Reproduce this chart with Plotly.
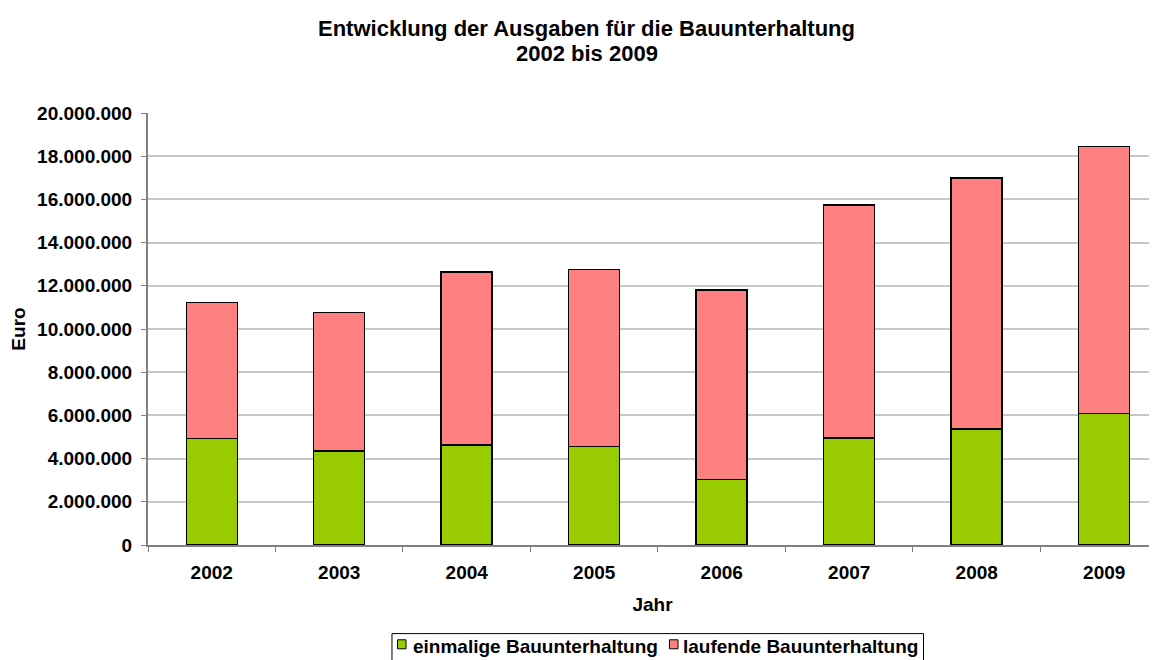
import plotly.graph_objects as go

jahre = ["2002", "2003", "2004", "2005", "2006", "2007", "2008", "2009"]
einmalig = [4930000, 4350000, 4620000, 4550000, 3030000, 4950000, 5360000, 6080000]
laufend = [6290000, 6410000, 8020000, 8210000, 8780000, 10790000, 11620000, 12380000]

titel_1 = "Entwicklung der Ausgaben für die Bauunterhaltung"
titel_2 = "2002 bis 2009"
name_1 = "einmalige Bauunterhaltung"
name_2 = "laufende Bauunterhaltung"
farbe_1 = "#99CC00"
farbe_2 = "#FF8080"

font_fam = "Arial, Liberation Sans, sans-serif"
bold19 = dict(family=font_fam, size=19, color="black", weight="bold")
bold22 = dict(family=font_fam, size=22, color="black", weight="bold")

fig = go.Figure()
fig.add_trace(go.Bar(
    x=jahre, y=einmalig, name=name_1,
    marker=dict(color=farbe_1, line=dict(color="black", width=1.5)),
    width=0.4,
))
fig.add_trace(go.Bar(
    x=jahre, y=laufend, name=name_2,
    marker=dict(color=farbe_2, line=dict(color="black", width=1.5)),
    width=0.4,
))

# legend drawn by hand (Excel style: small square right next to the text, box cut at the bottom)
legend_shapes = [
    dict(type="rect", xref="paper", yref="paper", x0=0.2418, x1=0.7686, y0=-0.2051, y1=-0.2785,
         line=dict(color="black", width=1), fillcolor="white", layer="above"),
    dict(type="rect", xref="paper", yref="paper", x0=0.2473, x1=0.2557, y0=-0.2194, y1=-0.2403,
         line=dict(color="black", width=1), fillcolor=farbe_1, layer="above"),
    dict(type="rect", xref="paper", yref="paper", x0=0.5168, x1=0.5253, y0=-0.2194, y1=-0.2403,
         line=dict(color="black", width=1), fillcolor=farbe_2, layer="above"),
]
legend_texts = [
    dict(text=name_1, xref="paper", yref="paper", x=0.2607, y=-0.2345,
         xanchor="left", yanchor="middle", showarrow=False, font=bold19),
    dict(text=name_2, xref="paper", yref="paper", x=0.5282, y=-0.2345,
         xanchor="left", yanchor="middle", showarrow=False, font=bold19),
]

# page body has an 8px margin, so the figure is a bit smaller than the window
fig.update_layout(
    barmode="stack",
    width=1149, height=652,
    margin=dict(l=140, r=0, t=105, b=115, autoexpand=False),
    paper_bgcolor="white", plot_bgcolor="white",
    separators=",.",
    font=bold19,
    showlegend=False,
    shapes=legend_shapes,
    annotations=[
        dict(text=titel_1, xref="paper", yref="paper", x=0.435, y=1.196,
             xanchor="center", yanchor="middle", showarrow=False, font=bold22),
        dict(text=titel_2, xref="paper", yref="paper", x=0.435, y=1.138,
             xanchor="center", yanchor="middle", showarrow=False, font=bold22),
    ] + legend_texts,
)

fig.update_xaxes(
    type="category", range=[-0.5, 7.414], automargin=False,
    showline=True, linecolor="#808080", linewidth=2,
    ticks="outside", tickson="boundaries", ticklen=5, tickcolor="#808080",
    ticklabelstandoff=9,
    tickfont=bold19,
    title=dict(text="Jahr", standoff=16, font=bold19),
    showgrid=False,
)
fig.update_yaxes(
    range=[0, 20000000], dtick=2000000, tickformat=",d", automargin=False,
    showline=True, linecolor="#808080", linewidth=2,
    ticks="outside", ticklen=5, tickcolor="#808080",
    ticklabelstandoff=5,
    gridcolor="#c8c8c8", gridwidth=1.5,
    zeroline=False,
    tickfont=bold19,
    title=dict(text="Euro", standoff=6, font=bold19),
)

fig.write_html("out.html")
